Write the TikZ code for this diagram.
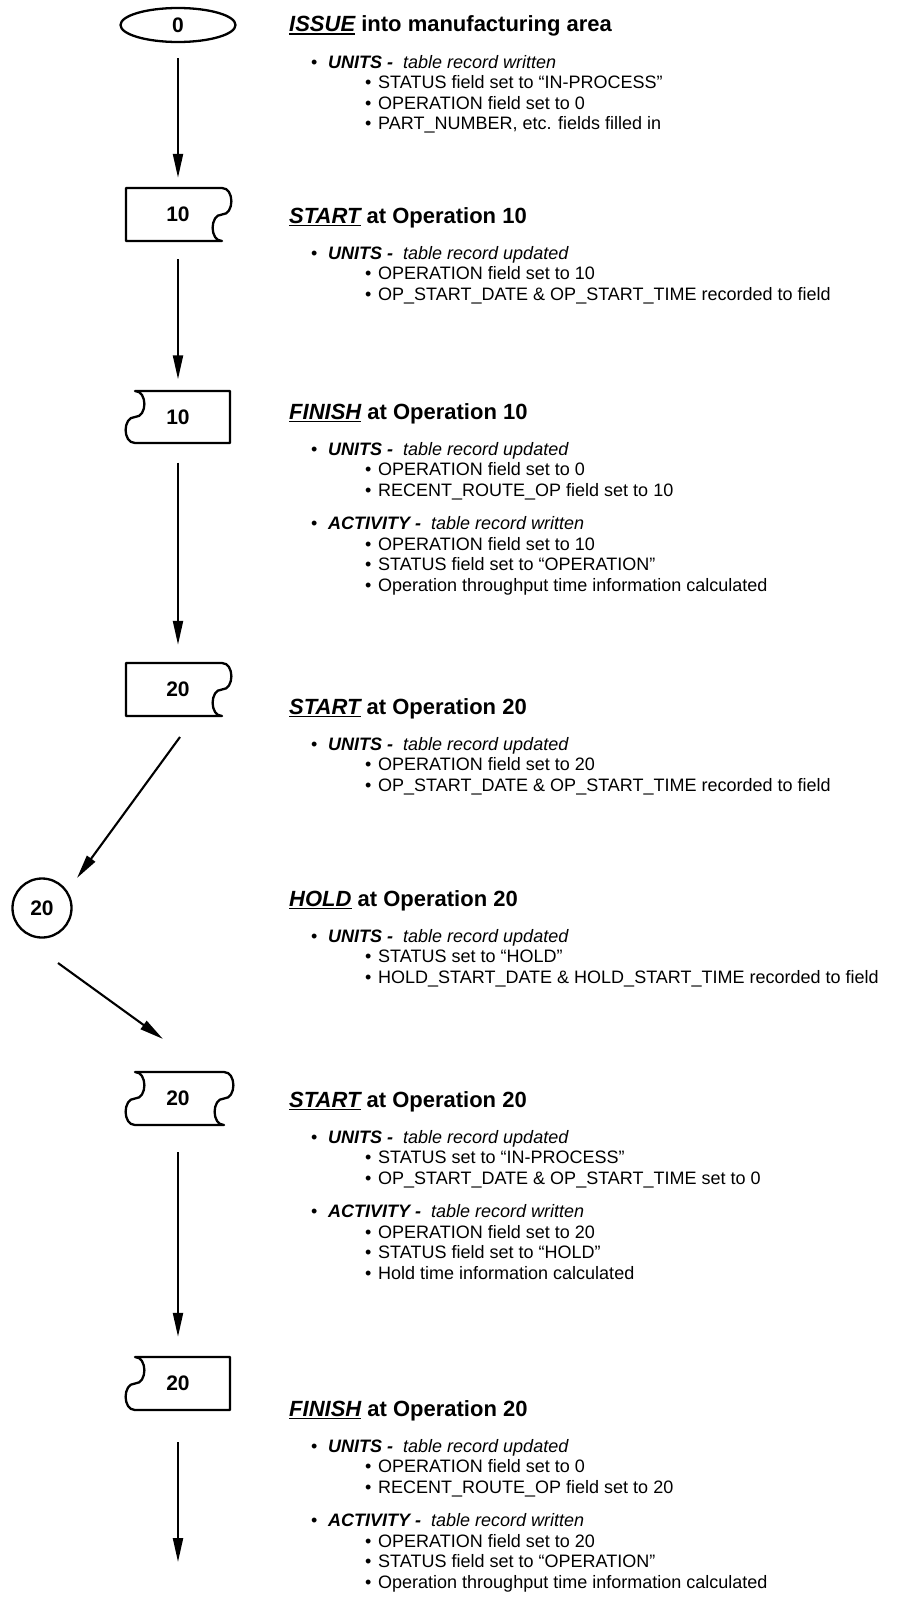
\documentclass[tikz,border=0pt]{standalone}
\usepackage{fontspec}
\setmainfont{Liberation Sans}
\usetikzlibrary{arrows.meta,shapes.geometric}

% keyword of a heading: bold italic, with a heavy underline
\newsavebox\kwbox
\newcommand\kwd[1]{\sbox\kwbox{\bfseries\itshape #1}\rlap{\rule[-3.4pt]{\wd\kwbox}{1.9pt}}\usebox\kwbox}
% one heading, one first-level bullet, one second-level bullet (name, baseline, text)
\newcommand\headat[3]{\node[headline] (#1) at (289,#2) {#3};}
\newcommand\bulone[3]{\node[lvlone] (#1) at (311,#2) {\makebox[17pt][l]{•}#3};}
\newcommand\bultwo[3]{\node[lvltwo] (#1) at (365,#2) {\makebox[13pt][l]{•}#3};}
\newcommand\tbl[2]{\textbf{\textit{#1}}\ \ \textit{#2}}

\begin{document}
\begin{tikzpicture}[x=1pt,y=-1pt,
  shapeline/.style={line width=2.3pt, line join=round},
  flow/.style={line width=2.1pt, -{Triangle[length=24pt,width=10pt]}},
  tapenode/.style={rectangle, minimum width=95pt, minimum height=53pt, inner sep=0pt,
                   font=\fontsize{21}{24}\selectfont\bfseries},
  headline/.style={anchor=base west, inner sep=0pt, font=\fontsize{22}{26}\selectfont\bfseries},
  lvlone/.style={anchor=base west, inner sep=0pt, font=\fontsize{18}{21}\selectfont},
  lvltwo/.style={anchor=base west, inner sep=0pt, font=\fontsize{18}{21}\selectfont},
]
\useasboundingbox (0,0) rectangle (911,1600);

% ---------- flow symbols ----------
\node[draw, ellipse, shapeline, minimum width=115pt, minimum height=34pt, inner sep=0pt,
      font=\fontsize{21}{24}\selectfont\bfseries] (o0) at (178,25) {0};

% start 10 (wavy right side)
\node[tapenode] (s10) at (178,214.5) {10};
\draw[shapeline] (222,188) -- (126,188) -- (126,241) -- (222,241)
  .. controls (209.5,241) and (209.5,214.5) .. (222,214.5)
  .. controls (234.5,214.5) and (234.5,188) .. (222,188) -- cycle;

% finish 10 (wavy left side)
\node[tapenode] (f10) at (178,417) {10};
\draw[shapeline] (135,391) -- (230,391) -- (230,443) -- (135,443)
  .. controls (122.5,443) and (122.5,417) .. (135,417)
  .. controls (147.5,417) and (147.5,391) .. (135,391) -- cycle;

% start 20
\node[tapenode] (s20) at (178,689.5) {20};
\draw[shapeline] (222,663) -- (126,663) -- (126,716) -- (222,716)
  .. controls (209.5,716) and (209.5,689.5) .. (222,689.5)
  .. controls (234.5,689.5) and (234.5,663) .. (222,663) -- cycle;

% hold 20
\node[draw, circle, shapeline, minimum size=59pt, inner sep=0pt,
      font=\fontsize{21}{24}\selectfont\bfseries] (c20) at (42,908) {20};

% restart 20 (both sides wavy)
\node[tapenode] (sd) at (178,1098.5) {20};
\draw[shapeline] (135,1072) -- (224,1072)
  .. controls (236.5,1072) and (236.5,1098.5) .. (224,1098.5)
  .. controls (211.5,1098.5) and (211.5,1125) .. (224,1125) -- (135,1125)
  .. controls (122.5,1125) and (122.5,1098.5) .. (135,1098.5)
  .. controls (147.5,1098.5) and (147.5,1072) .. (135,1072) -- cycle;

% finish 20
\node[tapenode] (f20) at (178,1383.5) {20};
\draw[shapeline] (135,1357) -- (230,1357) -- (230,1410) -- (135,1410)
  .. controls (122.5,1410) and (122.5,1383.5) .. (135,1383.5)
  .. controls (147.5,1383.5) and (147.5,1357) .. (135,1357) -- cycle;

% ---------- connectors ----------
\coordinate (d1a) at (180,737);
\coordinate (d1b) at (77,878);
\coordinate (d2a) at (58,963);
\coordinate (d2b) at (163,1039);
\coordinate (tail) at (178,1562);

\draw[flow, shorten <=15pt, shorten >=10pt] (o0.south) -- (s10.north);
\draw[flow, shorten <=18pt, shorten >=11pt] (s10.south) -- (f10.north);
\draw[flow, shorten <=19pt, shorten >=18pt] (f10.south) -- (s20.north);
\draw[flow] (d1a) -- (d1b);
\draw[flow] (d2a) -- (d2b);
\draw[flow, shorten <=27pt, shorten >=20pt] (sd.south) -- (f20.north);
\draw[flow, shorten <=32pt] (f20.south) -- (tail);

% ---------- descriptions ----------
\headat{h1}{32}{\kwd{ISSUE} into manufacturing area}
\bulone{h1a}{68.4}{\tbl{UNITS -}{table record written}}
\bultwo{h1b}{88.9}{STATUS field set to “IN-PROCESS”}
\bultwo{h1c}{109.4}{OPERATION field set to 0}
\bultwo{h1d}{129.9}{PART\_NUMBER, etc. fields filled in}

\headat{h2}{223}{\kwd{START} at Operation 10}
\bulone{h2a}{259.4}{\tbl{UNITS -}{table record updated}}
\bultwo{h2b}{279.9}{OPERATION field set to 10}
\bultwo{h2c}{300.4}{OP\_START\_DATE \& OP\_START\_TIME recorded to field}

\headat{h3}{419}{\kwd{FINISH} at Operation 10}
\bulone{h3a}{455.4}{\tbl{UNITS -}{table record updated}}
\bultwo{h3b}{475.9}{OPERATION field set to 0}
\bultwo{h3c}{496.4}{RECENT\_ROUTE\_OP field set to 10}
\bulone{h3d}{529.9}{\tbl{ACTIVITY -}{table record written}}
\bultwo{h3e}{550.4}{OPERATION field set to 10}
\bultwo{h3f}{570.9}{STATUS field set to “OPERATION”}
\bultwo{h3g}{591.4}{Operation throughput time information calculated}

\headat{h4}{714}{\kwd{START} at Operation 20}
\bulone{h4a}{750.4}{\tbl{UNITS -}{table record updated}}
\bultwo{h4b}{770.9}{OPERATION field set to 20}
\bultwo{h4c}{791.4}{OP\_START\_DATE \& OP\_START\_TIME recorded to field}

\headat{h5}{906}{\kwd{HOLD} at Operation 20}
\bulone{h5a}{942.4}{\tbl{UNITS -}{table record updated}}
\bultwo{h5b}{962.9}{STATUS set to “HOLD”}
\bultwo{h5c}{983.4}{HOLD\_START\_DATE \& HOLD\_START\_TIME recorded to field}

\headat{h6}{1107}{\kwd{START} at Operation 20}
\bulone{h6a}{1143.4}{\tbl{UNITS -}{table record updated}}
\bultwo{h6b}{1163.9}{STATUS set to “IN-PROCESS”}
\bultwo{h6c}{1184.4}{OP\_START\_DATE \& OP\_START\_TIME set to 0}
\bulone{h6d}{1217.9}{\tbl{ACTIVITY -}{table record written}}
\bultwo{h6e}{1238.4}{OPERATION field set to 20}
\bultwo{h6f}{1258.9}{STATUS field set to “HOLD”}
\bultwo{h6g}{1279.4}{Hold time information calculated}

\headat{h7}{1416}{\kwd{FINISH} at Operation 20}
\bulone{h7a}{1452.4}{\tbl{UNITS -}{table record updated}}
\bultwo{h7b}{1472.9}{OPERATION field set to 0}
\bultwo{h7c}{1493.4}{RECENT\_ROUTE\_OP field set to 20}
\bulone{h7d}{1526.9}{\tbl{ACTIVITY -}{table record written}}
\bultwo{h7e}{1547.4}{OPERATION field set to 20}
\bultwo{h7f}{1567.9}{STATUS field set to “OPERATION”}
\bultwo{h7g}{1588.4}{Operation throughput time information calculated}
\end{tikzpicture}
\end{document}
